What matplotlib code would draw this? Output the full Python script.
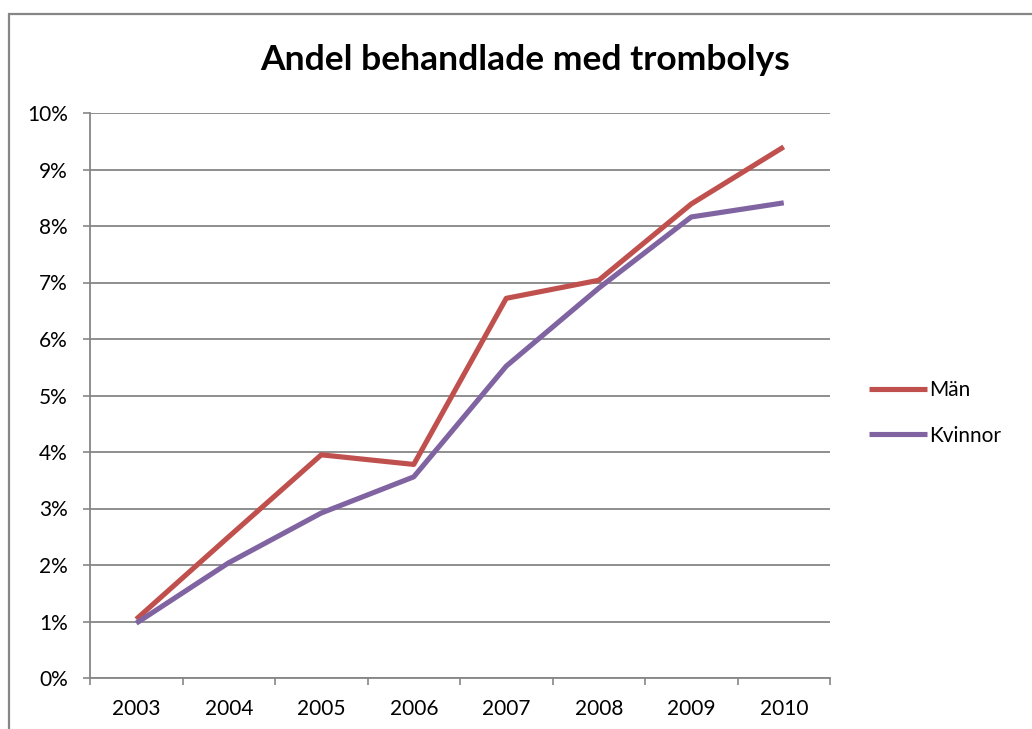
# Andel behandlade med trombolys, män och kvinnor 2003-2010
import matplotlib.pyplot as plt
from matplotlib.patches import Rectangle
from matplotlib.ticker import FixedLocator

ar = ['2003', '2004', '2005', '2006', '2007', '2008', '2009', '2010']
man = [1.04, 2.50, 3.95, 3.78, 6.72, 7.04, 8.39, 9.40]
kvinnor = [0.97, 2.04, 2.92, 3.56, 5.52, 6.90, 8.16, 8.41]

GRA = '#868686'
plt.rcParams['font.family'] = ['Lato', 'DejaVu Sans']

fig = plt.figure(figsize=(10.32, 7.29), dpi=100)
ax = fig.add_axes([90 / 1032, 1 - 678 / 729, 740 / 1032, 565 / 729])

# yttre ram runt diagrammet (höger och nederkant ligger utanför bilden)
fig.patches.append(Rectangle((9 / 1032, -0.1), 1.2, 0.1 + (729 - 14) / 729,
                             transform=fig.transFigure, fill=False,
                             edgecolor=GRA, linewidth=1.6))

x = list(range(len(ar)))
ax.plot(x, man, color='#C0504D', linewidth=3.7, label='Män', solid_capstyle='butt')
ax.plot(x, kvinnor, color='#8064A2', linewidth=3.7, label='Kvinnor', solid_capstyle='butt')

ax.set_xlim(-0.5, len(ar) - 0.5)
ax.set_ylim(0, 10)
ax.set_yticks(range(0, 11))
ax.set_yticklabels([f'{v}%' for v in range(0, 11)])
ax.set_xticks(x)
ax.set_xticklabels(ar)
ax.xaxis.set_minor_locator(FixedLocator([i - 0.5 for i in range(len(ar) + 1)]))
ax.tick_params(axis='x', which='major', length=0, pad=15)
ax.tick_params(axis='x', which='minor', length=5, width=1.2, color=GRA)
ax.tick_params(axis='y', length=5, width=1.2, color=GRA, pad=11)
ax.tick_params(labelsize=15, labelcolor='black')

ax.grid(axis='y', color=GRA, linewidth=1.3)
ax.set_axisbelow(True)
for s in ['top', 'right']:
    ax.spines[s].set_visible(False)
for s in ['left', 'bottom']:
    ax.spines[s].set_color(GRA)
    ax.spines[s].set_linewidth(1.3)

fig.text(525 / 1032, 1 - 60 / 729, 'Andel behandlade med trombolys',
         ha='center', va='center', fontsize=25.5, fontweight='bold')

ax.legend(loc='center left', bbox_to_anchor=(869 / 1032, 1 - 413 / 729),
          bbox_transform=fig.transFigure, frameon=False, fontsize=15,
          handlelength=2.8, handletextpad=0.1, labelspacing=1.22,
          borderpad=0, borderaxespad=0)

fig.savefig('out.png', dpi=100)
